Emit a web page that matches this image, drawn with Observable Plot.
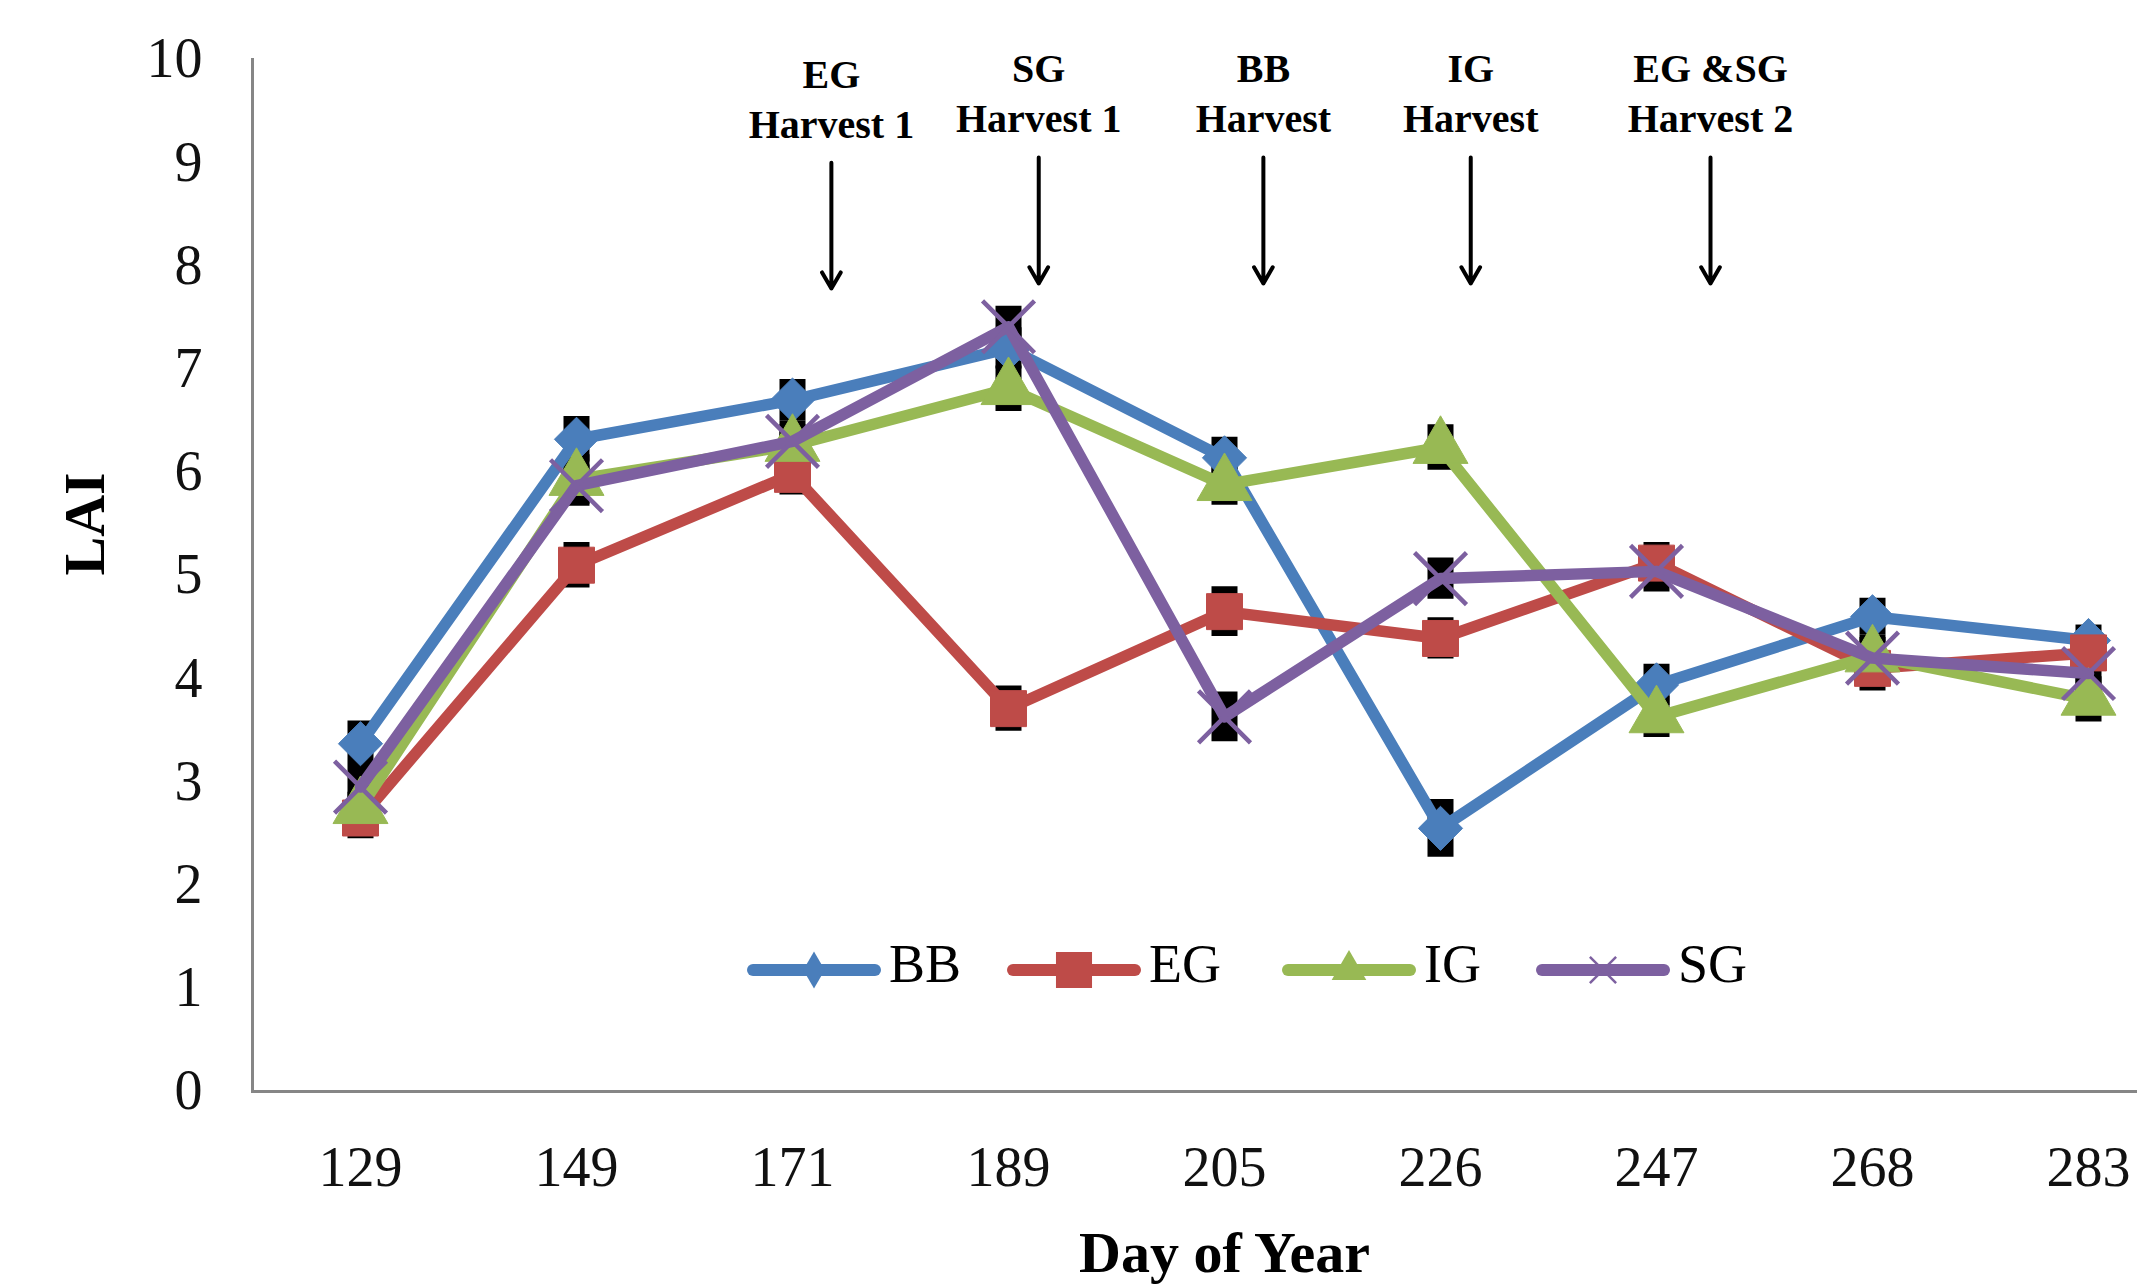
<!DOCTYPE html>
<html>
<head>
<meta charset="utf-8">
<script src="https://cdn.jsdelivr.net/npm/d3@7"></script>
<script src="https://cdn.jsdelivr.net/npm/@observablehq/plot@0.6"></script>
<style>
  html, body { margin: 0; padding: 0; background: #fff; }
  #wrap { position: relative; width: 2137px; height: 1284px; overflow: hidden; background: #fff; }
  #wrap svg { display: block; }
</style>
</head>
<body>
<div id="wrap"></div>
<script>
// ---------------- data ----------------
const days = [129, 149, 171, 189, 205, 226, 247, 268, 283];
const seriesNames = ["BB", "EG", "IG", "SG"];

const BB = [3.37, 6.32, 6.70, 7.20, 6.14, 2.55, 3.94, 4.60, 4.37];
const EG = [2.65, 5.10, 5.98, 3.71, 4.65, 4.39, 5.12, 4.10, 4.25];
const IG = [2.75, 5.93, 6.26, 6.81, 5.88, 6.24, 3.63, 4.22, 3.80];
const SG = [2.95, 5.87, 6.30, 7.41, 3.63, 4.97, 5.04, 4.20, 4.05];

const BB_err = [0.22, 0.22, 0.20, 0.20, 0.20, 0.28, 0.20, 0.18, 0.15];
const EG_err = [0.20, 0.22, 0.20, 0.22, 0.24, 0.20, 0.20, 0.22, 0.15];
const IG_err = [0.15, 0.24, 0.20, 0.22, 0.20, 0.22, 0.20, 0.20, 0.22];
const SG_err = [0.20, 0.20, 0.20, 0.20, 0.24, 0.20, 0.20, 0.20, 0.20];

const yTicks = [0, 1, 2, 3, 4, 5, 6, 7, 8, 9, 10];

// harvest annotations (x in category-index units, y in LAI units)
const harvestLabels = ["EG\nHarvest 1", "SG\nHarvest 1", "BB\nHarvest", "IG\nHarvest", "EG &SG\nHarvest 2"];
const harvestAt = [2.18, 3.14, 4.18, 5.14, 6.25];
const harvestTextY = [9.64, 9.69, 9.69, 9.69, 9.69];
const harvestArrowFrom = [9.00, 9.05, 9.05, 9.05, 9.05];
const harvestArrowTo = [7.78, 7.83, 7.83, 7.83, 7.83];

// ---------------- styles ----------------
const FONT = "'Liberation Serif', 'Times New Roman', serif";
const W = 2137, H = 1284;
const colors = {BB: "#4A7EBB", EG: "#BE4B48", IG: "#98B954", SG: "#7D60A0"};
const values = {BB, EG, IG, SG};
const errs = {BB: BB_err, EG: EG_err, IG: IG_err, SG: SG_err};

const rowsOf = (name) => days.map((d, i) => ({
  i, day: d, v: values[name][i],
  lo: values[name][i] - errs[name][i],
  hi: values[name][i] + errs[name][i]
}));
const rows = Object.fromEntries(seriesNames.map(n => [n, rowsOf(n)]));

const ann = harvestLabels.map((label, k) => ({
  label, x: harvestAt[k], y: harvestTextY[k],
  from: harvestArrowFrom[k], to: harvestArrowTo[k]
}));

const dotStyle = {
  BB: {symbol: "diamond2", r: 19.9, fill: colors.BB, stroke: colors.BB, strokeWidth: 1},
  EG: {symbol: "square", r: 20.3, fill: colors.EG, stroke: colors.EG, strokeWidth: 1},
  IG: {symbol: "triangle", r: 20.4, fill: colors.IG, stroke: colors.IG, strokeWidth: 1},
  SG: {symbol: "times", r: 23.7, fill: "none", stroke: colors.SG, strokeWidth: 4.5}
};

const seriesMarks = seriesNames.flatMap(n => [
  Plot.line(rows[n], {x: "i", y: "v", stroke: colors[n], strokeWidth: 11.5,
    strokeLinejoin: "round", strokeLinecap: "round"}),
  Plot.dot(rows[n], {x: "i", y: "v", ...dotStyle[n]})
]);

const errMarks = seriesNames.map(n =>
  Plot.ruleX(rows[n], {x: "i", y1: "lo", y2: "hi", stroke: "#000", strokeWidth: 26})
);

const chart = Plot.plot({
  width: W,
  height: H,
  marginLeft: 252,
  marginRight: 0,
  marginTop: 59,
  marginBottom: 193,
  style: {fontFamily: FONT, background: "#fff", color: "#000", overflow: "visible"},
  x: {type: "linear", domain: [-0.5, days.length - 0.5], range: [252, 252 + 216 * days.length]},
  y: {domain: [0, 10], range: [1091, 59]},
  marks: [
    Plot.axisY({ticks: yTicks, tickSize: 0, tickPadding: 50, fontSize: 56, label: null,
      tickFormat: d => String(d), fill: "#111"}),
    Plot.axisX({ticks: d3.range(days.length), tickSize: 0, tickPadding: 55, fontSize: 56, label: null,
      tickFormat: i => String(days[i]), fill: "#111"}),
    ...errMarks,
    ...seriesMarks,
    Plot.frame({anchor: "left", stroke: "#868686", strokeWidth: 3}),
    Plot.frame({anchor: "bottom", stroke: "#868686", strokeWidth: 3}),
    Plot.text(ann, {x: "x", y: "y", text: "label", fontWeight: "bold", fontSize: 40,
      lineHeight: 1.25, lineAnchor: "middle", fill: "#000"}),
    Plot.arrow(ann, {x1: "x", x2: "x", y1: "from", y2: "to", stroke: "#000",
      strokeWidth: 4, headLength: 7, headAngle: 60}),
    Plot.text(["LAI"], {frameAnchor: "left", dx: -167, rotate: -90, fontWeight: "bold",
      fontSize: 58, fill: "#000"}),
    Plot.text(["Day of Year"], {x: [(days.length - 1) / 2], frameAnchor: "bottom", dy: 180,
      fontWeight: "bold", fontSize: 58, fill: "#000"})
  ]
});

const wrap = document.getElementById("wrap");
wrap.appendChild(chart);

// ---------------- legend (overlay) ----------------
const legendLeft = {BB: 747, EG: 1007, IG: 1282, SG: 1536};
const legendSym = {
  BB: {type: d3.symbolDiamond, size: 400, fill: colors.BB, stroke: "none", sw: 0},
  EG: {type: d3.symbolSquare, size: 1300, fill: colors.EG, stroke: "none", sw: 0},
  IG: {type: d3.symbolTriangle, size: 520, fill: colors.IG, stroke: "none", sw: 0},
  SG: {type: d3.symbolTimes, size: 450, fill: "none", stroke: colors.SG, sw: 2.5}
};
const leg = d3.select(wrap).append("svg")
  .attr("width", W).attr("height", H)
  .style("position", "absolute").style("left", "0px").style("top", "0px")
  .style("pointer-events", "none");
const lineY = 970, lineLen = 134;
seriesNames.forEach(n => {
  const x0 = legendLeft[n];
  const g = leg.append("g");
  g.append("line").attr("x1", x0 + 6).attr("x2", x0 + lineLen - 6)
    .attr("y1", lineY).attr("y2", lineY)
    .attr("stroke", colors[n]).attr("stroke-width", 12).attr("stroke-linecap", "round");
  const s = legendSym[n];
  g.append("path").attr("d", d3.symbol(s.type, s.size)())
    .attr("transform", `translate(${x0 + lineLen / 2},${lineY})`)
    .attr("fill", s.fill).attr("stroke", s.stroke).attr("stroke-width", s.sw);
  g.append("text").attr("x", x0 + lineLen + 8).attr("y", 982)
    .attr("font-family", FONT).attr("font-size", 54).attr("fill", "#000").text(n);
});
</script>
</body>
</html>
